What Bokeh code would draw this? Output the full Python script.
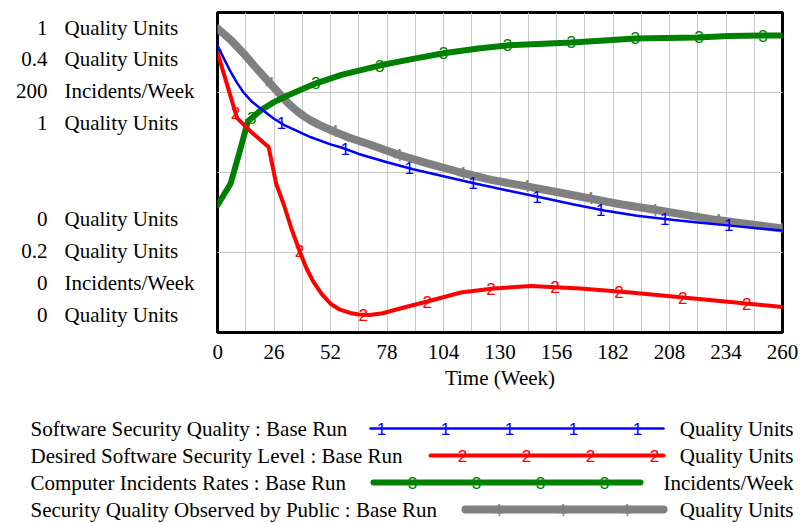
import numpy as np
from bokeh.plotting import figure
from bokeh.models import Range1d, FixedTicker
from bokeh.layouts import column, row
from bokeh.core.properties import value
from bokeh.embed import file_html
from bokeh.resources import INLINE

# ---------------- data ----------------
series_names = [
    "Software Security Quality : Base Run",
    "Desired Software Security Level : Base Run",
    "Computer Incidents Rates : Base Run",
    "Security Quality Observed by Public : Base Run",
]
series_units = ["Quality Units", "Quality Units", "Incidents/Week", "Quality Units"]
scale_min = [0, 0.2, 0, 0]
scale_max = [1, 0.4, 200, 1]
x_ticks = [0, 26, 52, 78, 104, 130, 156, 182, 208, 234, 260]

quality_t = [0, 3, 6, 9, 12, 16, 21, 26, 31, 39, 43, 52, 57, 65, 78, 90, 104, 119,
             134, 149, 164, 178, 193, 207, 221, 236, 248, 260]
quality_v = [0.897, 0.855, 0.815, 0.78, 0.75, 0.72, 0.694, 0.668, 0.647, 0.622, 0.61,
             0.588, 0.578, 0.558, 0.532, 0.51, 0.488, 0.465, 0.443, 0.422, 0.40, 0.381,
             0.365, 0.354, 0.344, 0.334, 0.326, 0.319]

desired_t = [0, 9, 15, 23.5, 27, 30.5, 34, 38, 41, 44, 48, 52, 56, 61, 65, 70, 76, 84,
             97, 112, 127, 144, 167, 190, 213, 236, 260]
desired_v = [0.375, 0.334, 0.326, 0.316, 0.293, 0.28, 0.265, 0.25, 0.24, 0.232, 0.224,
             0.218, 0.2145, 0.2122, 0.2112, 0.211, 0.212, 0.215, 0.2195, 0.225, 0.2275,
             0.229, 0.2275, 0.225, 0.222, 0.219, 0.216]

incidents_t = [0, 6, 10, 14, 20, 26, 32, 45, 57, 75, 90, 104, 120, 134, 150, 163, 178,
               192, 221, 235, 251, 260]
incidents_v = [79.5, 93, 112, 132, 139, 144, 148, 155.6, 161, 167, 171, 174.5, 177.5,
               179.5, 180.5, 181.3, 182.5, 183.8, 184.4, 185.3, 185.6, 185.6]

observed_t = [0, 6, 12, 18, 24, 28, 31, 34, 37, 40, 43, 47, 54, 61, 69, 83, 97, 112,
              126, 141, 156, 172, 186, 200, 214, 228, 244, 260]
observed_v = [0.95, 0.915, 0.872, 0.825, 0.78, 0.75, 0.727, 0.707, 0.69, 0.675, 0.662,
              0.648, 0.627, 0.608, 0.59, 0.556, 0.528, 0.5, 0.477, 0.458, 0.439, 0.418,
              0.40, 0.385, 0.369, 0.353, 0.339, 0.325]

# ---------------- style ----------------
colors = ["#0000ff", "#ff0000", "#008000", "#808080"]
widths = [2.5, 4, 6, 8]
marks = ["1", "2", "3", "4"]
range_names = ["default", "desired", "incidents", "default"]
SERIF = value("Liberation Serif")
SANS = value("Liberation Sans")
FS = "21px"
MFS = "17px"

W, H_MAIN, H_LEG, W_LEFT = 803, 400, 123, 212


def blank(fig):
    fig.axis.visible = False
    fig.grid.visible = False
    fig.outline_line_color = None
    fig.background_fill_color = "white"
    fig.border_fill_color = "white"
    fig.frame_align = False


# ---------------- main plot ----------------
p = figure(width=W - W_LEFT, height=H_MAIN, output_backend="svg", toolbar_location=None,
           x_range=Range1d(0, 260), y_range=Range1d(0, 1),
           min_border_left=5, min_border_right=21, min_border_top=12,
           min_border_bottom=68)
p.frame_align = False
p.extra_y_ranges = {"desired": Range1d(scale_min[1], scale_max[1]),
                    "incidents": Range1d(scale_min[2], scale_max[2])}
p.background_fill_color = "white"
p.border_fill_color = "white"
p.outline_line_color = "black"
p.outline_line_width = 3
p.yaxis.visible = False

p.xaxis.ticker = FixedTicker(ticks=x_ticks)
p.xaxis.major_tick_line_color = None
p.xaxis.minor_tick_line_color = None
p.xaxis.axis_line_width = 3
p.xaxis.axis_line_color = "black"
p.xaxis.major_label_text_font = "Liberation Serif"
p.xaxis.major_label_text_font_size = FS
p.xaxis.major_label_text_color = "black"
p.xaxis.major_label_standoff = 6
p.xaxis.axis_label = "Time (Week)"
p.xaxis.axis_label_text_font = "Liberation Serif"
p.xaxis.axis_label_text_font_size = FS
p.xaxis.axis_label_text_font_style = "normal"
p.xaxis.axis_label_text_color = "black"
p.xaxis.axis_label_standoff = 4

p.xgrid.ticker = FixedTicker(ticks=list(range(0, 261, 13)))
p.ygrid.ticker = FixedTicker(ticks=[0.25, 0.5, 0.75])
for g in (p.xgrid, p.ygrid):
    g.grid_line_color = "#c8c8c8"
    g.grid_line_width = 1

all_t = [quality_t, desired_t, incidents_t, observed_t]
all_v = [quality_v, desired_v, incidents_v, observed_v]
offsets = [0.0, 8.3, 15.8, 24.2]
spacing = 29.4

for i in [3, 2, 1, 0]:
    p.line(all_t[i], all_v[i], line_color=colors[i], line_width=widths[i],
           line_join="round", line_cap="round", y_range_name=range_names[i])
    mt = np.arange(offsets[i], 260.5, spacing)
    mv = np.interp(mt, all_t[i], all_v[i])
    p.text(x=mt, y=mv, text=[marks[i]] * len(mt), text_color=colors[i],
           text_font=SANS, text_font_size=MFS, text_align="center",
           text_baseline="middle", y_range_name=range_names[i])

# ---------------- left scale labels ----------------
left = figure(width=W_LEFT, height=H_MAIN, output_backend="svg", toolbar_location=None,
              x_range=Range1d(0, W_LEFT), y_range=Range1d(H_MAIN, 0),
              min_border=0, min_border_left=0, min_border_right=0,
              min_border_top=0, min_border_bottom=0)
blank(left)


def fmt(v):
    return f"{v:g}"


top_rows = [27, 58.5, 90, 122]
bottom_rows = [218, 250, 282, 314]
nums = [fmt(v) for v in scale_max] + [fmt(v) for v in scale_min]
units2 = series_units + series_units
ys = top_rows + bottom_rows
left.text(x=[47] * 8, y=ys, text=nums, text_font=SERIF, text_font_size=FS,
          text_color="black", text_align="right", text_baseline="middle")
left.text(x=[64] * 8, y=ys, text=units2, text_font=SERIF, text_font_size=FS,
          text_color="black", text_align="left", text_baseline="middle")

# ---------------- legend ----------------
lg = figure(width=W, height=H_LEG, output_backend="svg", toolbar_location=None,
            x_range=Range1d(0, W), y_range=Range1d(H_LEG, 0),
            min_border=0, min_border_left=0, min_border_right=0,
            min_border_top=0, min_border_bottom=0)
blank(lg)

row_y = [28, 55, 82, 109]
line_x0 = [370, 430, 373, 465]
line_x1 = [663, 663, 640, 663]
mark_x = [[381, 445, 509, 573, 637], [462, 526, 590, 654], [412, 476, 540, 604],
          [497, 561, 625]]

lg.text(x=[30] * 4, y=row_y, text=series_names, text_font=SERIF, text_font_size=FS,
        text_color="black", text_baseline="middle", text_align="left")
lg.text(x=[793] * 4, y=row_y, text=series_units, text_font=SERIF, text_font_size=FS,
        text_color="black", text_baseline="middle", text_align="right")
for i in range(4):
    lg.line([line_x0[i], line_x1[i]], [row_y[i], row_y[i]], line_color=colors[i],
            line_width=widths[i], line_cap="round")
    lg.text(x=mark_x[i], y=[row_y[i]] * len(mark_x[i]), text=[marks[i]] * len(mark_x[i]),
            text_color=colors[i], text_font=SANS, text_font_size=MFS,
            text_align="center", text_baseline="middle")

layout = column(row(left, p, spacing=0), lg, spacing=0)
open("out.html", "w").write(file_html(layout, INLINE))
